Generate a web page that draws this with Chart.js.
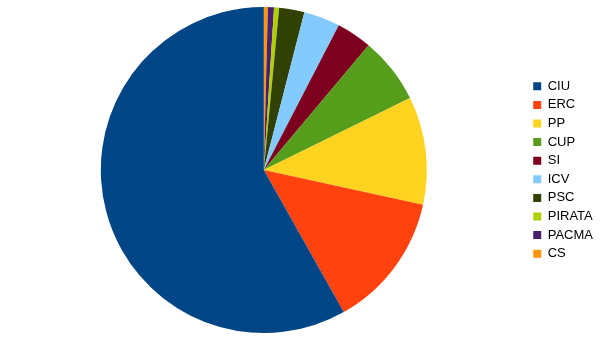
<!DOCTYPE html>
<html>
<head>
<meta charset="utf-8">
<script src="https://cdn.jsdelivr.net/npm/chart.js@4/dist/chart.umd.min.js"></script>
<style>
  body { margin: 0; background: #fff; }
</style>
</head>
<body>
<canvas id="graph" width="605" height="340"></canvas>
<script>
// parties, in legend order
const parties = ['CIU', 'ERC', 'PP', 'CUP', 'SI', 'ICV', 'PSC', 'PIRATA', 'PACMA', 'CS']
// share of the vote (%)
const shares = [58.1, 13.4, 10.7, 6.6, 3.5, 3.6, 2.5, 0.5, 0.6, 0.4]
const partyColors = ['#004586', '#ff420e', '#ffd320', '#579d1c', '#7e0021', '#83caff', '#314004', '#aecf00', '#4b1f6f', '#ff950e']

// the original goes counter-clockwise from 12 o'clock, so feed it reversed
let labels = parties.slice().reverse()
let data = shares.slice().reverse()
let colors = partyColors.slice().reverse()

let ctx = document.getElementById('graph').getContext('2d')

let myPie = new Chart(ctx, {
  type: 'pie',
  data: {
    labels: labels,
    datasets: [{
      data: data,
      backgroundColor: colors,
      borderWidth: 0
    }]
  },
  options: {
    responsive: false,
    animation: false,
    layout: { padding: { top: 7, bottom: 7, left: 0, right: 2 } },
    plugins: {
      tooltip: { enabled: false },
      legend: {
        position: 'right',
        reverse: true,
        labels: {
          boxWidth: 8,
          boxHeight: 8,
          padding: 5.6,
          color: '#000',
          font: { family: 'Liberation Sans', size: 13 }
        }
      }
    }
  }
})
</script>
</body>
</html>
